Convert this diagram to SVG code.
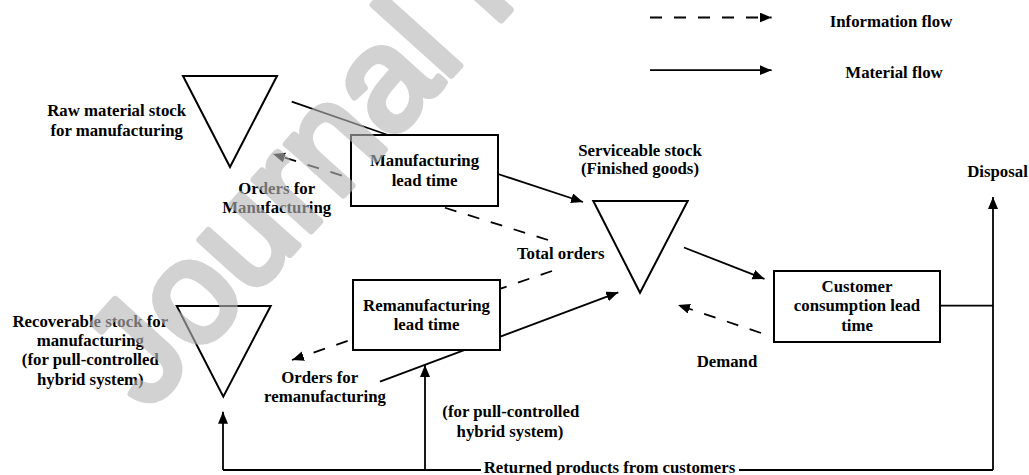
<svg xmlns="http://www.w3.org/2000/svg" width="1029" height="475" viewBox="0 0 1029 475">
<style>
.t{font-family:"Liberation Serif","Times New Roman",serif;font-weight:bold;font-size:16.8px;text-anchor:middle;fill:#000}
.shape{fill:#fff;stroke:#000;stroke-width:2}
.ln{stroke:#000;stroke-width:1.8;fill:none}
.dash{stroke-dasharray:12 12}
.wm{font-family:"Liberation Sans",Arial,sans-serif;font-size:145px;fill:#b7b7b7;stroke:#b7b7b7;stroke-width:7;stroke-linejoin:round;opacity:0.61}
</style>
<defs>
<marker id="ah" markerUnits="userSpaceOnUse" markerWidth="13" markerHeight="11" refX="12" refY="5" orient="auto" viewBox="0 0 13 11">
<path d="M0,0 L12,5 L0,10 z" fill="#000"/>
</marker>
</defs>
<rect width="1029" height="475" fill="#fff"/>
<g id="connectors">
<line class="ln" x1="291.7" y1="101.7" x2="388" y2="135"/>
<line class="ln" x1="498" y1="174" x2="583" y2="202" marker-end="url(#ah)"/>
<line class="ln dash" x1="548" y1="240" x2="273" y2="154" marker-end="url(#ah)"/>
<line class="ln dash" x1="552" y1="271" x2="292" y2="360" marker-end="url(#ah)"/>
<line class="ln" x1="380" y1="381.7" x2="618.3" y2="292.3" marker-end="url(#ah)"/>
<line class="ln" x1="684" y1="247.5" x2="764.5" y2="279" marker-end="url(#ah)"/>
<line class="ln dash" x1="761" y1="333" x2="678" y2="305" marker-end="url(#ah)"/>
<polyline class="ln" points="940,305.7 993,305.7"/>
<line class="ln" x1="993" y1="470" x2="993" y2="197" marker-end="url(#ah)"/>
<polyline class="ln" points="993,470 739,470"/>
<polyline class="ln" points="481,470 223,470"/>
<line class="ln" x1="223" y1="470" x2="223" y2="411.7" marker-end="url(#ah)"/>
<line class="ln" x1="425" y1="470" x2="425" y2="365" marker-end="url(#ah)"/>
<text class="t" x="609.5" y="472.5">Returned products from customers</text>
</g>
<g id="legend">
<line class="ln dash" x1="650" y1="17.5" x2="771.6" y2="17.5" marker-end="url(#ah)"/>
<line class="ln" x1="650" y1="70.2" x2="771.6" y2="70.2" marker-end="url(#ah)"/>
<text class="t" x="891" y="27">Information flow</text>
<text class="t" x="894" y="78">Material flow</text>
</g>
<g id="raw-stock">
<polygon class="shape" points="183,76 277,76 230,167"/>
<text class="t" x="116.7" y="115.7">Raw material stock</text>
<text class="t" x="116.7" y="135.5">for manufacturing</text>
</g>
<g id="manufacturing">
<rect class="shape" x="351" y="135" width="147" height="71"/>
<text class="t" x="424.5" y="165.7">Manufacturing</text>
<text class="t" x="424.5" y="185.5">lead time</text>
</g>
<g id="orders-manufacturing">
<text class="t" x="276.7" y="193.5">Orders for</text>
<text class="t" x="276.7" y="213">Manufacturing</text>
</g>
<g id="serviceable-stock">
<polygon class="shape" points="593.3,201 687.7,201 640,292.7"/>
<text class="t" x="640" y="156">Serviceable stock</text>
<text class="t" x="640" y="174">(Finished goods)</text>
</g>
<g id="total-orders">
<text class="t" x="560.7" y="258.7">Total orders</text>
</g>
<g id="customer">
<rect class="shape" x="774" y="271" width="166" height="71"/>
<text class="t" x="857" y="291.7">Customer</text>
<text class="t" x="857" y="311.3">consumption lead</text>
<text class="t" x="857" y="330.5">time</text>
</g>
<g id="demand">
<text class="t" x="727" y="366.6">Demand</text>
</g>
<g id="disposal">
<text class="t" x="997.5" y="177">Disposal</text>
</g>
<g id="recoverable-stock">
<polygon class="shape" points="176.7,306 270.7,306 223.3,396.7"/>
<text class="t" x="90.3" y="326.7">Recoverable stock for</text>
<text class="t" x="90.3" y="346">manufacturing</text>
<text class="t" x="90.3" y="365">(for pull-controlled</text>
<text class="t" x="90.3" y="384.5">hybrid system)</text>
</g>
<g id="remanufacturing">
<rect class="shape" x="353" y="280" width="147" height="70"/>
<text class="t" x="426.5" y="310.5">Remanufacturing</text>
<text class="t" x="426.5" y="329.5">lead time</text>
</g>
<g id="orders-remanufacturing">
<text class="t" x="319.7" y="382.5">Orders for</text>
<text class="t" x="325" y="401.7">remanufacturing</text>
</g>
<g id="pull-note">
<text class="t" x="510.8" y="416.7">(for pull-controlled</text>
<text class="t" x="510" y="436.7">hybrid system)</text>
</g>
<text class="wm" transform="translate(148,412) rotate(-48)">Journal Pre-proof</text>
</svg>
